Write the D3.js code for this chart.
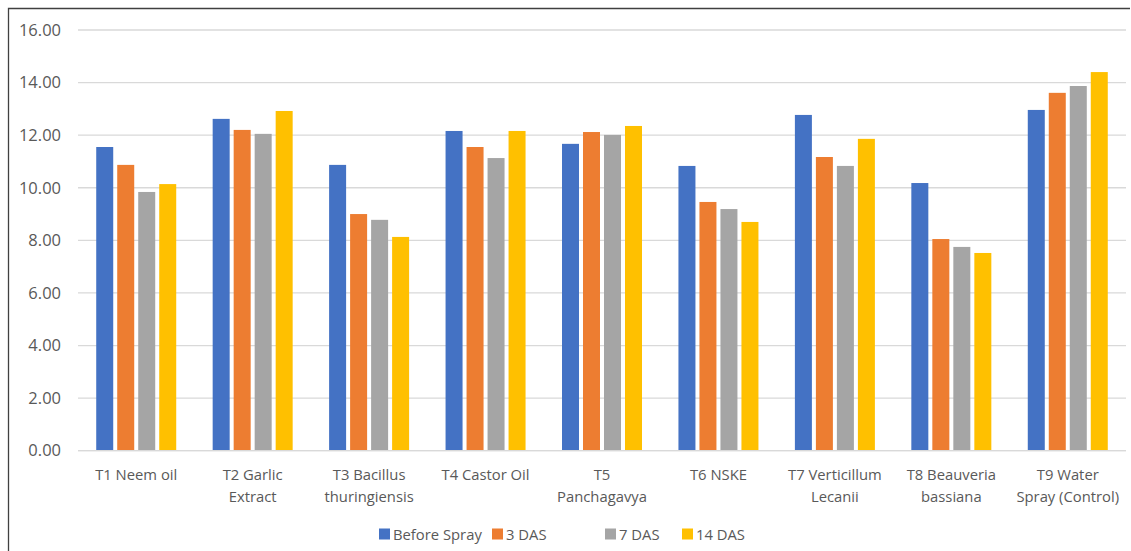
<!DOCTYPE html>
<html>
<head>
<meta charset="utf-8">
<script src="https://cdn.jsdelivr.net/npm/d3@7"></script>
<style>
  html, body { margin: 0; padding: 0; background: #fff; }
  svg { display: block; }
  text { font-family: "Open Sans", "Noto Sans", sans-serif; fill: #595959; }
</style>
</head>
<body>
<svg id="chart" width="1131" height="551"></svg>
<script>
// Treatments (x-axis categories), one label line per array entry
const treatments = [
  ["T1 Neem oil"],
  ["T2 Garlic", "Extract"],
  ["T3 Bacillus", "thuringiensis"],
  ["T4 Castor Oil"],
  ["T5", "Panchagavya"],
  ["T6 NSKE"],
  ["T7 Verticillum", "Lecanii"],
  ["T8 Beauveria", "bassiana"],
  ["T9 Water", "Spray (Control)"]
];

// Observation times (series)
const seriesNames = ["Before Spray", "3 DAS", "7 DAS", "14 DAS"];
const seriesColors = ["#4472C4", "#ED7D31", "#A5A5A5", "#FFC000"];

// Values per series, in treatment order
const beforeSpray = [11.55, 12.62, 10.87, 12.16, 11.67, 10.83, 12.77, 10.18, 12.96];
const das3        = [10.87, 12.20,  9.00, 11.55, 12.12,  9.46, 11.17,  8.05, 13.61];
const das7        = [ 9.84, 12.05,  8.78, 11.13, 12.01,  9.19, 10.83,  7.75, 13.87];
const das14       = [10.14, 12.92,  8.13, 12.16, 12.35,  8.70, 11.86,  7.52, 14.40];

const yTicks = [0, 2, 4, 6, 8, 10, 12, 14, 16];

const seriesValues = [beforeSpray, das3, das7, das14];

const svg = d3.select("#chart");

// chart frame: top and left edges
svg.append("path")
  .attr("d", "M8.5,551 V8.5 H1130")
  .attr("fill", "none").attr("stroke", "#404040").attr("stroke-width", 1.3);

const plot = { left: 78, right: 1126, top: 30, bottom: 450.7 };

const x0 = d3.scaleBand()
  .domain(d3.range(treatments.length))
  .range([plot.left, plot.right])
  .paddingInner(0).paddingOuter(0);

const y = d3.scaleLinear().domain([0, 16]).range([plot.bottom, plot.top]);

// horizontal gridlines
svg.append("g").selectAll("line")
  .data(yTicks)
  .join("line")
  .attr("x1", plot.left).attr("x2", plot.right)
  .attr("y1", d => y(d)).attr("y2", d => y(d))
  .attr("stroke", "#D9D9D9").attr("stroke-width", 1.3);

// y-axis labels
const yAxis = d3.axisLeft(y).tickValues(yTicks).tickFormat(d3.format(".2f")).tickSize(0).tickPadding(0);
const yG = svg.append("g").attr("transform", `translate(61,0)`).call(yAxis);
yG.select(".domain").remove();
yG.selectAll("text")
  .attr("font-size", "16.5px")
  .attr("fill", "#595959")
  .style("font-family", "'Open Sans', sans-serif");

// bars: 4 per treatment, fixed width with small gaps
const barW = 17, barStep = 21;
const groupW = barStep * (seriesNames.length - 1) + barW;

const groups = svg.append("g").selectAll("g")
  .data(treatments.map((t, i) => i))
  .join("g")
  .attr("transform", i => `translate(${x0(i) + x0.bandwidth() / 2 - groupW / 2},0)`);

groups.selectAll("rect")
  .data(i => seriesValues.map((vals, s) => ({ s, v: vals[i] })))
  .join("rect")
  .attr("x", d => d.s * barStep)
  .attr("width", barW)
  .attr("y", d => y(d.v))
  .attr("height", d => y(0) - y(d.v))
  .attr("fill", d => seriesColors[d.s]);

// baseline
svg.append("line")
  .attr("x1", plot.left).attr("x2", plot.right)
  .attr("y1", y(0)).attr("y2", y(0))
  .attr("stroke", "#D9D9D9").attr("stroke-width", 1.3);

// category labels
const xl = svg.append("g");
treatments.forEach((lines, i) => {
  const cx = x0(i) + x0.bandwidth() / 2;
  const t = xl.append("text")
    .attr("x", cx)
    .attr("y", 480)
    .attr("text-anchor", "middle")
    .attr("font-size", "14.8px");
  lines.forEach((ln, k) => {
    t.append("tspan")
      .attr("x", cx)
      .attr("dy", k === 0 ? 0 : 22)
      .text(ln);
  });
});

// legend
const legendX = [379, 492, 605, 682];
const lg = svg.append("g");
seriesNames.forEach((name, s) => {
  lg.append("rect")
    .attr("x", legendX[s]).attr("y", 528.5)
    .attr("width", 11).attr("height", 11)
    .attr("fill", seriesColors[s]);
  lg.append("text")
    .attr("x", legendX[s] + 14).attr("y", 539.5)
    .attr("font-size", "14.8px")
    .text(name);
});
</script>
</body>
</html>
